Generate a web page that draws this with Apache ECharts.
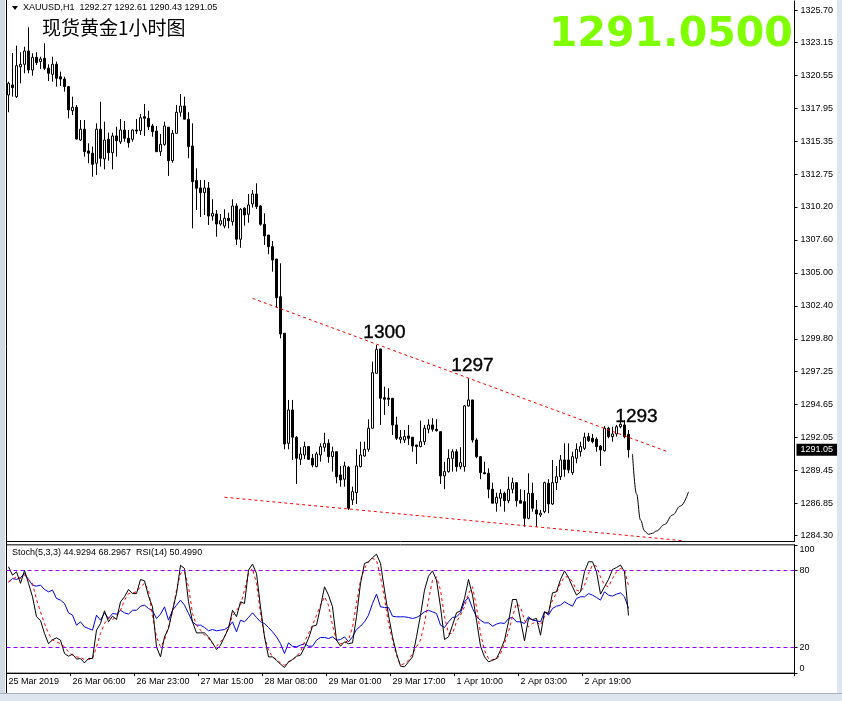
<!DOCTYPE html>
<html><head><meta charset="utf-8">
<script src="https://cdn.jsdelivr.net/npm/echarts@6/dist/echarts.min.js"></script>
<style>html,body{margin:0;padding:0;background:#fff;}#c{width:842px;height:701px;}</style>
</head><body><div id="c"></div>
<script>
// ---- data ----
const symbolName = 'XAUUSD,H1';
const chartTitle = '现货黄金1小时图';
const timeLabels = ['25 Mar 2019','26 Mar 06:00','26 Mar 23:00','27 Mar 15:00','28 Mar 08:00','29 Mar 01:00','29 Mar 17:00','1 Apr 10:00','2 Apr 03:00','2 Apr 19:00'];
const priceTicks = [1284.30,1286.85,1289.45,1292.05,1294.65,1297.25,1299.80,1302.40,1305.00,1307.60,1310.20,1312.75,1315.35,1317.95,1320.55,1323.15,1325.70];
const oscTicks = [0,20,80,100];
const oscLevels = [80,20];

const openP = [1319.02,1319.81,1318.89,1321.25,1321.44,1322.49,1320.99,1321.99,1321.65,1321.91,
1321.13,1320.65,1321.44,1320.46,1320.28,1319.68,1317.78,1318.05,1315.47,1316.32,
1314.61,1314.43,1313.64,1316.32,1313.98,1315.53,1314.47,1315.79,1315.32,1316.26,
1315.61,1315.53,1316.26,1316.21,1317.31,1317.18,1316.58,1316.18,1314.55,1315.13,
1316.48,1313.84,1316.00,1317.66,1318.15,1317.11,1315.00,1312.27,1311.69,1311.32,
1311.69,1309.48,1309.64,1308.85,1308.69,1309.30,1309.03,1310.27,1307.65,1310.09,
1309.62,1310.43,1311.22,1310.27,1308.83,1307.98,1307.06,1306.09,1303.12,1300.24,
1291.56,1294.19,1292.04,1290.30,1290.64,1291.30,1290.38,1289.72,1290.64,1291.25,
1291.56,1290.51,1290.90,1289.07,1288.73,1289.67,1287.09,1287.67,1289.72,1290.56,
1291.09,1292.75,1297.08,1299.00,1295.16,1295.13,1295.11,1293.01,1291.88,1291.82,
1292.14,1292.04,1291.43,1291.30,1291.69,1292.67,1293.01,1292.67,1292.48,1288.99,
1289.33,1290.38,1290.90,1289.72,1289.72,1294.51,1294.98,1291.82,1290.51,1289.25,
1289.20,1287.94,1286.84,1287.23,1287.62,1287.04,1287.94,1288.46,1287.04,1286.96,
1285.65,1287.62,1286.31,1285.91,1286.17,1288.41,1286.78,1288.46,1288.93,1290.25,
1290.25,1289.25,1290.38,1290.90,1291.17,1292.09,1291.96,1291.88,1291.35,1290.98,
1292.75,1292.09,1292.30,1292.87,1293.01,1292.27];
const highP = [1320.07,1322.33,1322.91,1322.39,1322.83,1324.36,1322.31,1322.39,1322.04,1323.10,
1321.44,1322.04,1321.65,1320.86,1320.46,1319.73,1318.89,1318.23,1317.05,1317.05,
1315.21,1314.95,1316.79,1318.49,1316.92,1316.05,1316.05,1316.52,1317.13,1316.97,
1316.26,1316.32,1317.13,1317.52,1318.31,1317.78,1316.74,1316.58,1315.95,1316.92,
1316.48,1316.26,1318.23,1319.10,1318.89,1317.66,1316.79,1313.24,1312.32,1312.32,
1312.16,1310.80,1309.95,1309.64,1310.01,1309.74,1310.80,1310.48,1310.09,1310.17,
1311.22,1311.53,1312.06,1310.35,1309.70,1307.98,1307.51,1306.09,1305.75,1300.24,
1294.98,1294.98,1292.14,1291.25,1291.69,1291.35,1290.72,1290.90,1291.56,1292.40,
1291.88,1291.30,1290.90,1289.78,1290.11,1289.78,1288.14,1291.09,1291.69,1291.69,
1293.46,1298.00,1299.31,1299.00,1296.03,1295.90,1295.11,1293.66,1292.61,1292.61,
1293.01,1292.04,1291.43,1293.35,1293.01,1293.46,1293.54,1293.46,1292.48,1290.11,
1291.09,1291.09,1291.09,1291.25,1294.58,1296.69,1294.98,1291.96,1290.56,1290.11,
1289.59,1288.46,1287.67,1287.94,1287.75,1288.93,1288.85,1288.46,1287.94,1287.88,
1289.20,1288.46,1287.09,1286.31,1288.54,1288.73,1290.25,1289.78,1290.64,1291.56,
1291.56,1290.90,1291.56,1291.69,1292.40,1292.38,1292.30,1292.04,1291.43,1292.93,
1292.87,1292.87,1293.01,1293.27,1293.40,1292.61];
const lowP = [1317.66,1318.89,1318.78,1319.94,1320.73,1320.73,1320.54,1321.39,1321.07,1320.99,
1320.12,1320.07,1319.68,1319.73,1319.28,1317.18,1317.44,1315.51,1315.40,1314.16,
1313.64,1312.58,1312.71,1313.37,1313.16,1313.84,1313.16,1314.16,1315.16,1315.34,
1314.87,1315.34,1315.95,1315.87,1315.79,1316.26,1315.73,1314.55,1314.21,1315.02,
1312.64,1313.68,1316.00,1317.31,1317.11,1314.03,1308.51,1309.95,1309.40,1309.56,
1308.77,1309.11,1307.85,1308.72,1308.51,1308.51,1308.72,1307.20,1306.98,1308.72,
1308.95,1310.14,1310.03,1308.72,1307.20,1306.46,1305.09,1302.25,1299.84,1291.09,
1291.09,1290.25,1288.36,1289.85,1290.33,1290.25,1289.67,1289.67,1290.11,1290.90,
1290.03,1289.33,1288.41,1288.14,1288.14,1286.31,1286.70,1286.78,1289.67,1290.51,
1290.90,1292.75,1297.08,1293.01,1293.80,1294.50,1292.22,1291.82,1291.56,1291.59,
1291.43,1290.90,1289.93,1291.25,1291.43,1292.35,1292.48,1292.48,1288.36,1287.94,
1289.25,1289.33,1289.33,1289.51,1289.33,1294.45,1291.61,1290.38,1288.73,1289.15,
1287.23,1286.84,1286.17,1286.57,1286.17,1286.84,1287.62,1286.57,1286.84,1284.99,
1285.57,1286.17,1284.99,1285.75,1286.05,1286.05,1286.70,1287.88,1288.67,1288.93,
1289.20,1289.07,1289.99,1290.51,1291.04,1291.67,1291.56,1290.90,1289.78,1290.90,
1291.96,1291.69,1292.09,1292.75,1291.96,1290.43];
const closeP = [1319.94,1319.60,1321.33,1321.44,1322.49,1320.99,1321.99,1321.57,1321.86,1321.13,
1320.73,1321.44,1320.34,1320.28,1319.68,1317.84,1318.05,1315.55,1316.32,1314.55,
1314.43,1313.56,1316.32,1314.03,1315.47,1314.47,1315.79,1315.42,1316.26,1315.61,
1315.26,1316.26,1316.18,1317.23,1317.18,1316.52,1316.13,1314.55,1315.13,1316.58,
1313.84,1316.00,1317.66,1318.15,1317.11,1314.95,1312.19,1311.67,1311.32,1311.69,
1309.48,1309.69,1308.85,1309.11,1309.30,1309.11,1310.27,1307.65,1310.01,1309.56,
1310.35,1311.22,1310.22,1308.83,1307.91,1307.06,1306.01,1303.04,1300.18,1291.51,
1294.19,1292.04,1290.38,1290.72,1291.30,1290.30,1289.85,1290.72,1291.30,1291.56,
1290.51,1290.90,1288.93,1288.67,1289.78,1286.44,1287.75,1289.78,1290.64,1291.09,
1292.75,1297.13,1298.97,1295.11,1295.03,1295.03,1293.01,1291.96,1292.04,1292.09,
1291.96,1291.35,1291.30,1291.69,1292.75,1293.01,1292.67,1292.56,1288.99,1289.33,
1290.38,1290.90,1289.72,1290.04,1294.51,1294.98,1291.82,1290.51,1289.25,1289.15,
1287.94,1286.84,1287.31,1287.62,1287.04,1287.94,1288.46,1287.04,1286.84,1285.65,
1287.62,1286.44,1285.99,1286.05,1288.46,1286.78,1288.46,1288.93,1290.25,1289.51,
1289.46,1290.51,1291.09,1291.30,1292.04,1291.77,1291.69,1291.30,1291.04,1292.75,
1292.09,1292.30,1292.87,1293.06,1292.09,1291.05];

// hand-drawn projection curve (bar index, price)
const curveIdx = [156,157,158,159,160,161,162,164,166,168,170];
const curveVal = [1290.72,1287.57,1285.52,1284.65,1284.39,1284.47,1284.65,1285.16,1285.91,1286.62,1287.73];
// red dotted trend lines (bar index, price)
const upperTrendIdx = [61,165];
const upperTrendVal = [1302.99,1290.87];
const lowerTrendIdx = [54,169];
const lowerTrendVal = [1287.31,1283.87];
// annotations
const noteIdx = [94,116,157];
const notePrice = [1300.26,1297.66,1293.64];
const noteText = ['1300','1297','1293'];

const stochMain = [82.9,76.4,79,70,80,70,59.5,44,41,31,
23,26,27.5,25.7,15.3,13.2,14.8,11,11.4,8,
11.4,11.4,33.5,38.7,48.6,40,44.4,41.8,55.6,59.5,
65.2,62,62,73,72,60,51.7,20.5,12.7,28.3,
34.8,49,62,84,81.6,55.6,40,31.4,31.4,31.4,
28.3,23.6,18.4,21.8,28.3,34.8,49,44,55.6,54.3,
80.3,85,77.7,51.7,28.3,12.7,12.7,10,7,4.4,
8.8,10.6,13.2,14,20,27,36.6,37.4,51.7,67.3,
60.8,51.7,25.7,21,24.4,23,23.6,44,70,85.5,
86.8,90,92.7,85.5,64.7,45.2,28.3,15.3,5.5,4.9,
8.8,12.7,28.3,45.2,64.7,75.6,79.7,72.5,51.7,26.2,
28.3,37.4,47,48.6,58.2,73,60.8,41.3,21,12.7,
8.8,10,11.4,17.9,25.7,40,57.4,57.4,41.3,25.2,
42.6,41.8,42.6,29.6,47.8,46.5,62.6,63.4,73,79.7,
74.5,67.3,60.8,63.4,79,86.8,86.8,79,61.6,67.3,
73,80.8,82.3,84.2,79,44.9294];
const stochSignal = [71,73,75,73.8,76.4,73,70,57.4,47.8,38.7,
31,25.7,24.4,23,20.5,16.6,14,12.7,12.2,10.6,
10.6,11.4,20.5,31,38.7,43.4,41.8,44,49,56.9,
62,62.6,63.4,67.3,70,64.7,44,28.3,20.5,25.7,
36,47.8,64.7,77.7,79,67.3,46.5,37.4,33.5,29.6,
27,23,21,24.4,28.3,36,44.4,49,53,64.7,
77.7,81.6,70,46.5,28.3,17.9,12.7,10.6,8,6.2,
8.8,10,13.2,16.6,24.4,31,37.4,45.2,53,59.5,
53,37.4,25.7,23,23.6,25.7,36,54.3,72.5,81.6,
86.8,89.4,88,75,58.2,38.7,25.7,14,6.2,7.5,
10,15.3,20.5,25.7,38.7,56.9,72.5,75,64.7,44,
31,31,40,45.2,51.7,62,67.3,51.7,31,17.9,
11.4,10.6,10.6,15.3,23,32.2,44,54.3,51.7,41.3,
36,38.7,40,37.4,44,47.8,56.9,62.6,70,75,
75,71.2,64.7,63.4,68.6,77.7,84.2,83.4,75,68.6,
67.3,73.8,79,81.6,80.3,68.2967];
const rsi = [71,73.8,73,74.5,77.7,73,68.6,67.8,68.6,65.2,
63.4,64.7,58.2,56.9,54.3,47,45.2,37.4,40,36,
34.8,33.5,45.2,41.3,47,42.6,46.5,46,49,47,
46,49,49,52.2,53,50.4,48.6,42.6,46,51.7,
41.3,49,53,56.9,53,46.5,40,37.4,37.4,35.6,
33,34,33,33.5,34,36,40,32.2,41.3,40,
43.4,47,43.4,40,38.7,35.6,32.2,28.3,23,15.3,
23.6,21,20.5,21.8,23,21,21,25.7,27.8,27.8,
27,28.3,25.7,26.2,28.3,24.4,28.3,34,36.6,40,
45.2,54.3,61.6,51.7,51.2,51.2,44.4,43.9,43.9,43.9,
43.4,42.6,43.4,45.2,47.8,49,47.8,46.5,37.4,35.6,
40,43.4,43.9,47,55.6,59,50.4,43.9,41.3,39.2,
39.2,36.6,38.2,39.2,38.7,42.6,43.4,40,40,38.7,
43.9,41.3,40.8,40,47.8,45.2,50.4,52.2,53,55.6,
53.8,52.2,58.2,59.5,59.5,62,60.8,59,56.9,63.4,
60.8,60,61.6,62.6,59.5,50.4990];

// ---- build ----
const NSLOT = 197;
const cats = [];
for (let i = 0; i < NSLOT; i++) cats.push(String(i));
const last = closeP.length - 1;
const candleData = openP.map((o, i) => [o, closeP[i], lowP[i], highP[i]]);
const pairs = (xs, ys) => xs.map((x, i) => [x, ys[i]]);
const FONT = '"Liberation Sans", Arial, sans-serif';
const labelAt = idx => idx % 16 === 0 && (idx / 16) < timeLabels.length;

const chart = echarts.init(document.getElementById('c'));
chart.setOption({
  animation: false,
  backgroundColor: '#ffffff',
  grid: [
    {left: 6.5, top: 1, width: 788, height: 540, show: false},
    {left: 6.5, top: 544.83, width: 788, height: 128.33, show: true, borderColor: '#000', borderWidth: 1, backgroundColor: '#fff'}
  ],
  xAxis: [
    {type: 'category', gridIndex: 0, data: cats, boundaryGap: true,
     axisLine: {show: true, lineStyle: {color: '#000'}}, axisTick: {show: false}, axisLabel: {show: false}, splitLine: {show: false}},
    {type: 'category', gridIndex: 1, data: cats, boundaryGap: true,
     axisLine: {show: true, lineStyle: {color: '#000'}},
     axisTick: {show: true, interval: labelAt, length: 3, lineStyle: {color: '#000'}},
     axisLabel: {show: true, interval: labelAt, formatter: (v, idx) => timeLabels[idx / 16] || '', align: 'left',
       fontSize: 9, fontFamily: FONT, color: '#000', margin: 4},
     splitLine: {show: false}}
  ],
  yAxis: [
    {type: 'value', gridIndex: 0, position: 'right', min: 1283.86, max: 1326.43,
     axisLine: {show: true, lineStyle: {color: '#000'}},
     axisTick: {show: true, customValues: priceTicks, length: 3, lineStyle: {color: '#000'}},
     axisLabel: {customValues: priceTicks, formatter: v => v.toFixed(2), fontSize: 9, fontFamily: FONT, color: '#000', margin: 6},
     splitLine: {show: false}},
    {type: 'value', gridIndex: 1, position: 'right', min: 0, max: 100,
     axisLine: {show: true, lineStyle: {color: '#000'}},
     axisTick: {show: true, customValues: oscTicks, length: 3, lineStyle: {color: '#000'}},
     axisLabel: {customValues: oscTicks, formatter: v => String(v), fontSize: 9, fontFamily: FONT, color: '#000', margin: 5,
       verticalAlignMinLabel: 'bottom', verticalAlignMaxLabel: 'top'},
     splitLine: {show: false}}
  ],
  series: [
    {type: 'candlestick', xAxisIndex: 0, yAxisIndex: 0, data: candleData, barWidth: 2, silent: true,
     itemStyle: {color: '#ffffff', color0: '#000000', borderColor: '#000000', borderColor0: '#000000', borderWidth: 1},
     markLine: {silent: true, symbol: 'none', animation: false,
       lineStyle: {color: 'rgba(0,0,0,0)', width: 0},
       label: {show: true, position: 'end', distance: 2, formatter: closeP[last].toFixed(2), color: '#fff',
         backgroundColor: '#000', padding: [2, 4, 1, 4], fontSize: 9, fontFamily: FONT},
       emphasis: {disabled: true},
       data: [{yAxis: closeP[last]}]}},
    {type: 'line', xAxisIndex: 0, yAxisIndex: 0, data: pairs(upperTrendIdx, upperTrendVal), symbol: 'none', silent: true,
     lineStyle: {color: '#ff0000', width: 1, type: [3, 3]}},
    {type: 'line', xAxisIndex: 0, yAxisIndex: 0, data: pairs(lowerTrendIdx, lowerTrendVal), symbol: 'none', silent: true,
     lineStyle: {color: '#ff0000', width: 1, type: [3, 3]}},
    {type: 'line', xAxisIndex: 0, yAxisIndex: 0, data: pairs(curveIdx, curveVal), symbol: 'none', silent: true,
     smooth: 0.4, smoothMonotone: 'x', lineStyle: {color: '#000', width: 1}},
    {type: 'scatter', xAxisIndex: 0, yAxisIndex: 0, data: pairs(noteIdx, notePrice), symbolSize: 2, silent: true,
     itemStyle: {color: 'rgba(0,0,0,0)'},
     label: {show: true, position: 'inside', formatter: p => noteText[p.dataIndex], fontSize: 19, fontFamily: FONT,
       color: '#000', opacity: 1, textBorderColor: '#000', textBorderWidth: 0.4}},
    {type: 'line', xAxisIndex: 1, yAxisIndex: 1, data: rsi, symbol: 'none', silent: true,
     lineStyle: {color: '#0000dd', width: 1}},
    {type: 'line', xAxisIndex: 1, yAxisIndex: 1, data: stochSignal, symbol: 'none', silent: true,
     lineStyle: {color: '#ff0000', width: 1, type: [3, 3]}},
    {type: 'line', xAxisIndex: 1, yAxisIndex: 1, data: stochMain, symbol: 'none', silent: true,
     lineStyle: {color: '#000', width: 1},
     markLine: {silent: true, symbol: 'none', animation: false, label: {show: false},
       lineStyle: {color: '#9400ff', width: 1, type: [4, 3], opacity: 1},
       emphasis: {disabled: true},
       data: oscLevels.map(v => ({yAxis: v}))}}
  ],
  graphic: [
    {type: 'rect', silent: true, shape: {x: 0, y: 0, width: 5, height: 701}, style: {fill: '#d3dbe6'}},
    {type: 'rect', silent: true, shape: {x: 837, y: 0, width: 5, height: 701}, style: {fill: '#dde5ef'}},
    {type: 'rect', silent: true, shape: {x: 0, y: 694, width: 842, height: 7}, style: {fill: '#dde5ef'}},
    {type: 'line', silent: true, shape: {x1: 0, y1: 693.5, x2: 842, y2: 693.5}, style: {stroke: '#a8b0bc', lineWidth: 1}},
    {type: 'line', silent: true, shape: {x1: 6.5, y1: 0, x2: 6.5, y2: 693}, style: {stroke: '#000', lineWidth: 1}},
    {type: 'polygon', silent: true, shape: {points: [[12, 6], [18, 6], [15, 10]]}, style: {fill: '#000'}},
    {type: 'text', silent: true, x: 23, y: 8,
     style: {text: symbolName + '  ' + [openP[last], highP[last], lowP[last], closeP[last]].map(v => v.toFixed(2)).join(' '),
       font: '9px ' + FONT, fill: '#000', verticalAlign: 'middle'}},
    {type: 'text', silent: true, x: 42, y: 28,
     style: {text: chartTitle, font: '19px "Noto Sans CJK SC"', fill: '#000', verticalAlign: 'middle'}},
    {type: 'text', silent: true, x: 549, y: 35,
     style: {text: closeP[last].toFixed(4), font: 'bold 41px "DejaVu Sans"', fill: '#7fff00', verticalAlign: 'middle'}},
    {type: 'text', silent: true, x: 12, y: 553,
     style: {text: 'Stoch(5,3,3) ' + stochMain[last].toFixed(4) + ' ' + stochSignal[last].toFixed(4) + '  RSI(14) ' + rsi[last].toFixed(4),
       font: '9px ' + FONT, fill: '#000', verticalAlign: 'middle'}}
  ]
});
</script>
</body></html>
